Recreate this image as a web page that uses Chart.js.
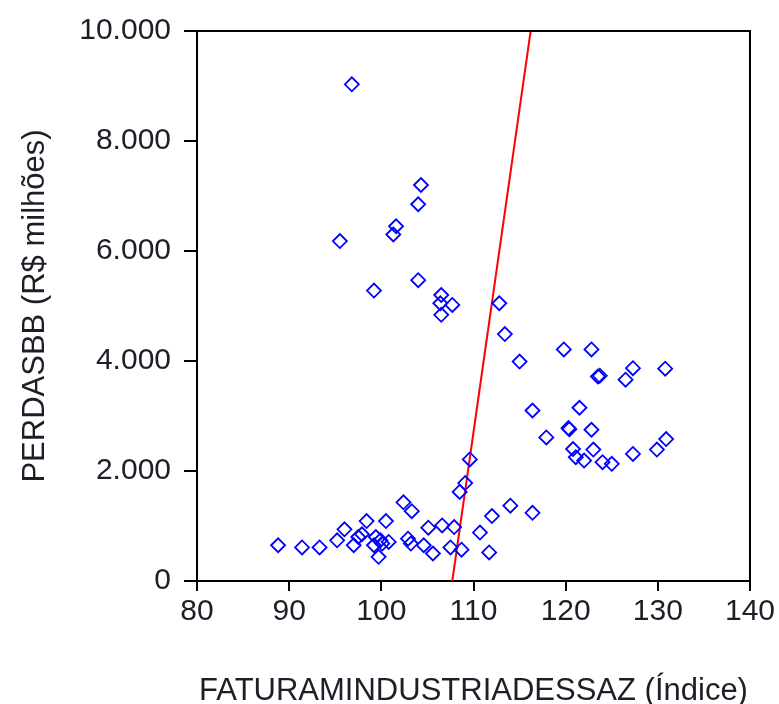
<!DOCTYPE html>
<html>
<head>
<meta charset="utf-8">
<script src="https://cdn.jsdelivr.net/npm/chart.js@4"></script>
<style>
  body { margin: 0; background: #fff; }
  #wrap { width: 779px; height: 704px; }
</style>
</head>
<body>
<div id="wrap"><canvas id="scatterChart"></canvas></div>
<script>
// indice de faturamento da industria (x) x perdas BB em R$ milhoes (y)
const faturamento = [
  96.8, 104.3, 104.0, 101.6, 101.3, 95.5, 104.0, 99.2, 106.5, 106.4, 107.7, 106.5,
  112.8, 113.4, 115.0, 119.8, 122.8, 123.7, 123.5, 127.3, 126.5, 130.8, 116.4, 121.5,
  120.3, 120.4, 122.8, 117.9, 120.8, 121.1, 122.0, 123.0, 124.0, 125.0, 127.3, 129.9,
  130.9, 109.6, 109.1, 108.5, 112.0, 114.0, 116.4, 110.7, 107.9, 106.6, 102.4, 103.3,
  100.5, 98.4, 96.0, 95.2, 97.0, 97.9, 97.5, 99.4, 99.9, 100.1, 100.8, 99.2,
  99.7, 88.8, 91.4, 93.3, 102.9, 103.2, 104.6, 105.6, 107.5, 108.7, 111.7, 105.1
];
const perdas = [
  9030, 7200, 6850, 6450, 6300, 6180, 5470, 5280, 5200, 5050, 5020, 4840,
  5050, 4490, 3990, 4210, 4210, 3730, 3720, 3870, 3660, 3860, 3100, 3150,
  2780, 2760, 2750, 2610, 2400, 2250, 2190, 2390, 2160, 2130, 2310, 2390,
  2580, 2210, 1780, 1620, 1180, 1370, 1240, 880, 980, 1010, 1430, 1270,
  1090, 1090, 940, 740, 650, 850, 800, 800, 740, 680, 710, 650,
  440, 650, 610, 610, 770, 680, 650, 500, 610, 570, 520, 970
];
// reta vermelha (dois pontos extremos)
const retaX = [107.7, 116.2];
const retaY = [0, 10000];

const xTicks = [80, 90, 100, 110, 120, 130, 140];
const yTicks = [0, 2000, 4000, 6000, 8000, 10000];
const yTickLabels = ['0', '2.000', '4.000', '6.000', '8.000', '10.000'];

const textColor = '#1e1e28';

const boxBorder = {
  id: 'boxBorder',
  afterDatasetsDraw(chart) {
    const { ctx, chartArea: a } = chart;
    ctx.save();
    ctx.strokeStyle = '#000';
    ctx.lineWidth = 2;
    ctx.beginPath();
    ctx.moveTo(a.left, a.top);
    ctx.lineTo(a.right, a.top);
    ctx.lineTo(a.right, a.bottom);
    ctx.stroke();
    ctx.restore();
  }
};

document.addEventListener('DOMContentLoaded', () => {
  const ctx = document.getElementById('scatterChart').getContext('2d');

  new Chart(ctx, {
    type: 'scatter',
    data: {
      datasets: [{
        data: faturamento.map((x, i) => ({ x: x, y: perdas[i] })),
        pointStyle: 'rectRot',
        pointRadius: 7,
        borderColor: '#0000ff',
        backgroundColor: 'rgba(0,0,0,0)',
        borderWidth: 1.8
      }, {
        type: 'line',
        data: retaX.map((x, i) => ({ x: x, y: retaY[i] })),
        borderColor: '#ff0000',
        borderWidth: 2,
        pointRadius: 0,
        fill: false
      }]
    },
    options: {
      responsive: true,
      maintainAspectRatio: false,
      animation: false,
      layout: { padding: { left: 0, right: 29, top: 28, bottom: 0 } },
      plugins: { legend: { display: false }, tooltip: { enabled: false } },
      scales: {
        x: {
          type: 'linear',
          min: 80,
          max: 140,
          afterBuildTicks: scale => { scale.ticks = xTicks.map(v => ({ value: v })); },
          afterFit: scale => { scale.height = 123; },
          grid: { display: true, drawOnChartArea: false, drawTicks: true, tickLength: 10, color: '#000', lineWidth: 2 },
          border: { display: true, color: '#000', width: 2 },
          ticks: { color: textColor, padding: 3, font: { family: 'Liberation Sans', size: 30 } },
          title: {
            display: true,
            text: 'FATURAMINDUSTRIADESSAZ (Índice)',
            color: textColor,
            padding: { top: 0, bottom: -3 },
            font: { family: 'Liberation Sans', size: 31, lineHeight: 1 }
          }
        },
        y: {
          type: 'linear',
          min: 0,
          max: 10000,
          afterBuildTicks: scale => { scale.ticks = yTicks.map(v => ({ value: v })); },
          afterFit: scale => { scale.width = 197; },
          grid: { display: true, drawOnChartArea: false, drawTicks: true, tickLength: 13, color: '#000', lineWidth: 2 },
          border: { display: true, color: '#000', width: 2 },
          ticks: {
            color: textColor,
            padding: 13,
            font: { family: 'Liberation Sans', size: 30 },
            callback: value => yTickLabels[yTicks.indexOf(value)]
          },
          title: {
            display: true,
            text: 'PERDASBB (R$ milhões)',
            color: textColor,
            padding: { top: 20, bottom: 0 },
            font: { family: 'Liberation Sans', size: 31, lineHeight: 1 }
          }
        }
      }
    },
    plugins: [boxBorder]
  });
});
</script>
</body>
</html>
